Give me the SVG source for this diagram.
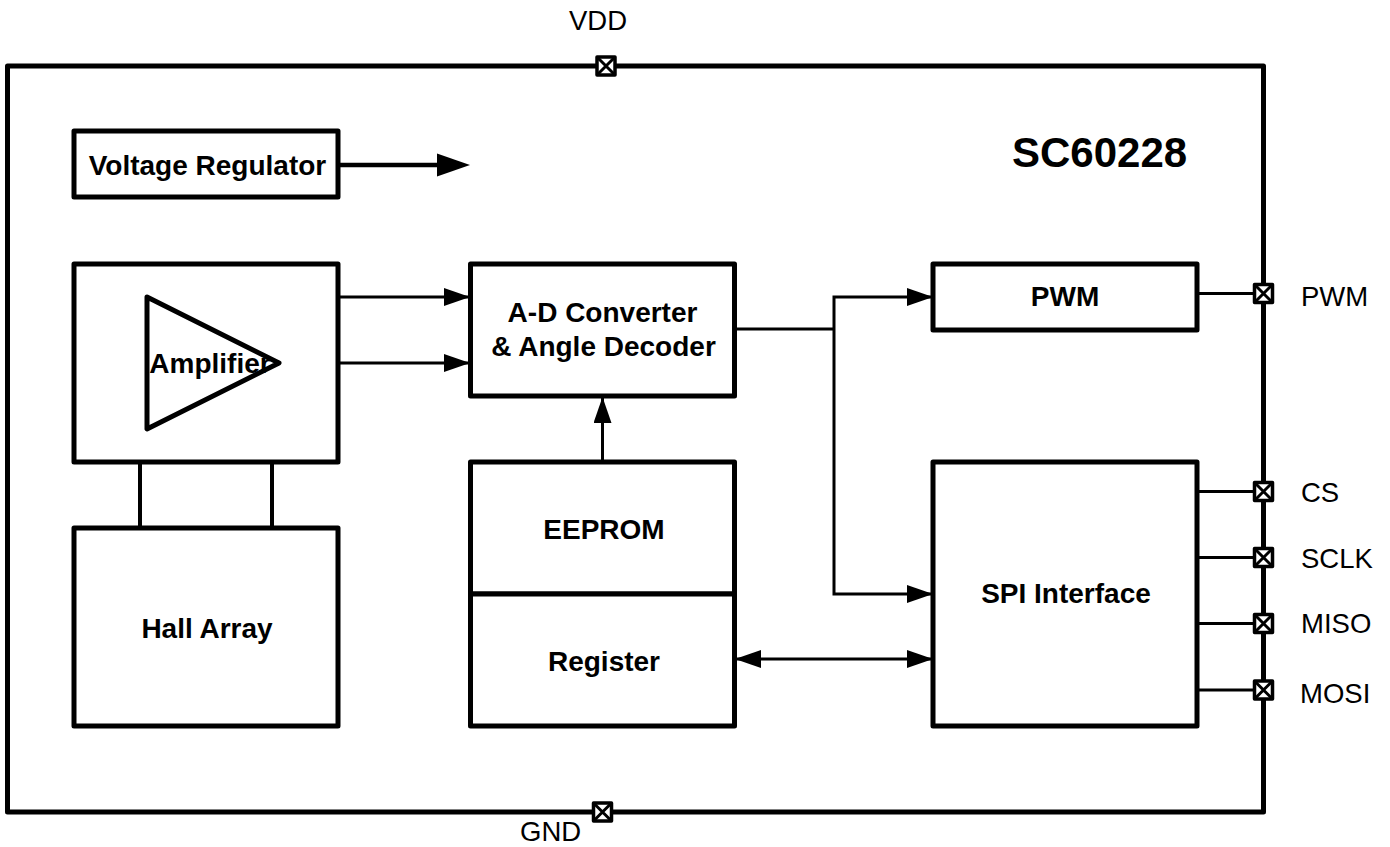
<svg xmlns="http://www.w3.org/2000/svg" width="1390" height="847" viewBox="0 0 1390 847">
<style>
text{font-family:"Liberation Sans",Arial,sans-serif;fill:#000}
.b{font-weight:bold;font-size:28px;text-anchor:middle}
.l{font-size:27.500px}
.box{fill:#fff;stroke:#000;stroke-width:5;stroke-linejoin:round}
.w{fill:none;stroke:#000;stroke-width:3;stroke-linecap:butt}
.pin{fill:#fff;stroke:#000;stroke-width:3.500;stroke-linejoin:round}
.cr{fill:none;stroke:#000;stroke-width:3}
</style>
<defs>
<marker id="a" markerUnits="userSpaceOnUse" markerWidth="26" markerHeight="18" refX="26" refY="9" orient="auto-start-reverse"><path d="M0 0L26 9L0 18Z" fill="#000"/></marker>
<g id="x"><rect class="pin" x="-9" y="-9" width="18" height="18"/><path class="cr" d="M-9 -9L9 9M9 -9L-9 9"/></g>
</defs>
<rect width="1390" height="847" fill="#fff"/>
<rect id="chip" class="box" x="7.500" y="66" width="1256" height="746"/>
<g id="connectors">
<path d="M338 165H438" fill="none" stroke="#000" stroke-width="4.500"/>
<path d="M437 153.500L470 165L437 176.500Z" fill="#000"/>
<path class="w" d="M338 297H470" marker-end="url(#a)"/>
<path class="w" d="M338 363H470" marker-end="url(#a)"/>
<path class="w" style="stroke-width:4" d="M140 462V528"/>
<path class="w" style="stroke-width:4" d="M272 462V528"/>
<path class="w" d="M735 329H834"/>
<path class="w" d="M933 297H834V594H933" style="marker-start:url(#a);marker-end:url(#a)"/>
<path class="w" d="M602.500 462V397" marker-end="url(#a)"/>
<path class="w" d="M735 659H933" style="marker-start:url(#a);marker-end:url(#a)"/>
<path class="w" d="M1197 293.500H1254M1197 491.500H1254M1197 557.500H1254M1197 623.500H1254M1197 690H1254"/>
</g>
<g id="voltage-regulator"><rect class="box" x="74" y="131" width="264" height="66"/><text class="b" x="207.500" y="175">Voltage Regulator</text></g>
<g id="amplifier"><rect class="box" x="74" y="264" width="264" height="198"/><path class="box" d="M147 297L279 363L147 429Z" style="fill:none"/><text class="b" x="210" y="373">Amplifier</text></g>
<g id="hall-array"><rect class="box" x="74" y="528" width="264" height="198"/><text class="b" x="207" y="638">Hall Array</text></g>
<g id="adc"><rect class="box" x="470.500" y="264" width="264" height="132"/><text class="b" x="602.500" y="322">A-D Converter</text><text class="b" x="603.500" y="356">&amp; Angle Decoder</text></g>
<g id="eeprom"><rect class="box" x="470.500" y="462" width="264" height="132"/><text class="b" x="604" y="539">EEPROM</text></g>
<g id="register"><rect class="box" x="470.500" y="594" width="264" height="132"/><text class="b" x="604" y="671">Register</text></g>
<g id="pwm"><rect class="box" x="933" y="264" width="264" height="66"/><text class="b" x="1065" y="306">PWM</text></g>
<g id="spi"><rect class="box" x="933" y="462" width="264" height="264"/><text class="b" x="1066" y="603">SPI Interface</text></g>
<text id="title" x="1012" y="167" font-size="42" font-weight="bold">SC60228</text>
<g id="pin-vdd"><use href="#x" x="606" y="66"/><text class="l" x="569" y="30">VDD</text></g>
<g id="pin-gnd"><use href="#x" x="602.500" y="812"/><text class="l" x="520" y="841">GND</text></g>
<g id="pin-pwm"><use href="#x" x="1263.500" y="293.500"/><text class="l" x="1301" y="306">PWM</text></g>
<g id="pin-cs"><use href="#x" x="1263.500" y="491.500"/><text class="l" x="1301" y="502">CS</text></g>
<g id="pin-sclk"><use href="#x" x="1263.500" y="557.500"/><text class="l" x="1301" y="567.500">SCLK</text></g>
<g id="pin-miso"><use href="#x" x="1263.500" y="623.500"/><text class="l" x="1301" y="633">MISO</text></g>
<g id="pin-mosi"><use href="#x" x="1263.500" y="690"/><text class="l" x="1300" y="703">MOSI</text></g>
</svg>
